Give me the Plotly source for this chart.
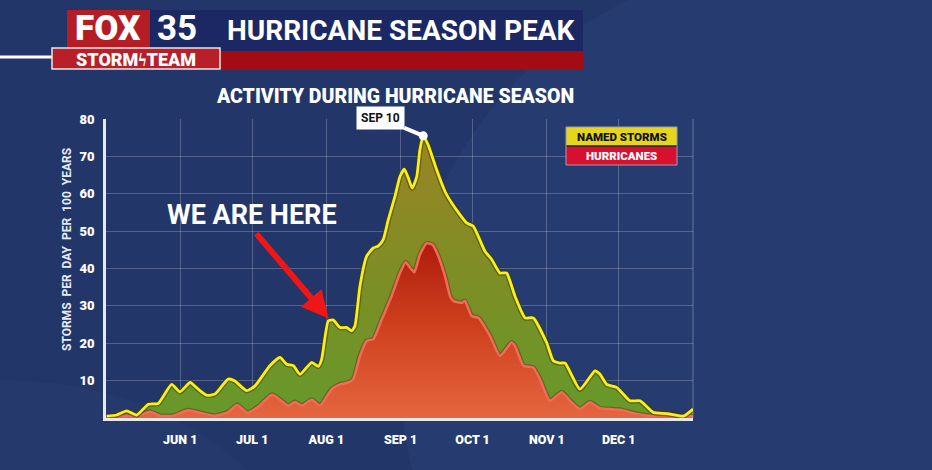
import plotly.graph_objects as go

# ---------------- data (x = days since May 1) ----------------
named_days = [0.3, 4.5, 8.6, 12.8, 17.7, 21.8, 27.4, 30.9, 35.1, 38.5, 42.0, 45.5, 51.0, 53.8, 58.7, 62.2,
              68.4, 72.6, 75.4, 78.2, 81.0, 85.9, 88.6, 90.0, 92.8, 94.9, 97.7, 100.5, 102.5, 103.9,
              106.0, 108.8, 111.6, 113.6, 115.7, 117.8, 120.6, 122.7, 124.5, 126.2, 127.8, 129.7,
              131.0, 132.4, 134.5, 138.0, 141.5, 144.3, 145.7, 150.5, 153.3, 158.2, 161.0, 164.4,
              167.2, 170.7, 174.9, 178.3, 183.9, 186.7, 189.5, 191.6, 197.8, 204.1, 206.2, 209.0,
              213.1, 215.2, 218.7, 222.9, 228.4, 234.0, 241.0, 245.0]
named_vals = [0.5, 0.8, 1.9, 0.8, 3.7, 3.9, 9.0, 7.0, 9.5, 7.7, 6.1, 6.4, 10.4, 9.9, 7.3, 8.6,
              14.0, 16.2, 14.4, 14.0, 11.7, 14.9, 13.8, 15.7, 26.0, 26.2, 24.2, 24.2, 23.3, 24.6,
              35.3, 43.3, 45.5, 46.0, 47.7, 53.0, 59.3, 64.6, 66.6, 64.2, 61.5, 64.6,
              71.7, 75.5, 73.0, 66.4, 60.6, 57.5, 56.2, 52.2, 51.3, 44.6, 42.4, 38.8,
              38.8, 32.6, 26.8, 26.8, 20.2, 15.3, 14.7, 14.7, 7.7, 12.6, 11.7, 9.0,
              8.2, 6.9, 4.6, 4.6, 1.5, 1.2, 0.5, 2.4]

hurr_days = [0.3, 14.2, 18.4, 22.5, 28.1, 34.2, 39.2, 45.5, 51.0, 54.7, 59.0, 63.9, 69.2, 72.6, 76.1,
             78.9, 81.7, 85.9, 89.3, 94.2, 97.7, 101.1, 103.2, 106.0, 108.8, 111.6, 115.1, 119.2,
             122.7, 125.1, 126.9, 128.7, 131.0, 133.8, 136.2, 138.7, 141.5, 143.6, 145.0, 148.5,
             149.8, 152.6, 155.4, 160.3, 164.4, 169.3, 170.7, 174.2, 178.3, 181.1, 185.3, 190.2,
             193.7, 197.8, 202.0, 206.2, 214.5, 221.5, 228.4, 234.7, 239.6, 245.0]
hurr_vals = [0.5, 0.8, 1.7, 0.6, 0.6, 2.1, 1.4, 0.6, 1.6, 3.5, 1.4, 3.2, 6.2, 4.9, 3.3,
             4.3, 3.3, 4.9, 3.3, 7.7, 9.0, 9.5, 10.4, 16.6, 20.6, 21.1, 26.4, 32.6,
             38.8, 41.7, 40.2, 39.0, 43.7, 46.7, 46.4, 43.3, 37.9, 32.6, 31.3, 30.8,
             31.3, 27.3, 26.8, 21.9, 16.6, 20.2, 19.3, 14.0, 13.5, 10.4, 4.6, 6.9,
             4.6, 2.4, 4.2, 2.6, 2.2, 1.1, 0.6, 1.3, 0.6, 0.5]

tick_days = [31, 61, 92, 123, 153, 184, 214]
tick_labels = ["JUN 1", "JUL 1", "AUG 1", "SEP 1", "OCT 1", "NOV 1", "DEC 1"]
y_ticks = [10, 20, 30, 40, 50, 60, 70, 80]

peak_day, peak_val, peak_label = 132.4, 75.5, "SEP 10"
here_day, here_val = 93.5, 26.2

# ---------------- layout geometry ----------------
W, H = 932, 470
L, R, T, B = 106, 239, 119, 52
PW, PH = W - L - R, H - T - B


def px(x):
    return (x - L) / PW


def py(y):
    return (H - B - y) / PH


FONT = "Roboto"
fig = go.Figure()

SPL = dict(shape="spline", smoothing=0.5)

fig.add_trace(go.Scatter(
    x=named_days, y=named_vals, mode="lines", line=dict(width=0, **SPL),
    fill="tozeroy",
    fillgradient=dict(type="vertical", colorscale=[[0, "#66992b"], [0.5, "#7d8e25"], [1, "#9a8424"]]),
    hoverinfo="skip", showlegend=False))

fig.add_trace(go.Scatter(
    x=hurr_days, y=hurr_vals, mode="lines", line=dict(width=5, color="rgba(90,20,10,0.35)", **SPL),
    hoverinfo="skip", showlegend=False))
fig.add_trace(go.Scatter(
    x=hurr_days, y=hurr_vals, mode="lines", line=dict(width=2.5, color="#f26a58", **SPL),
    fill="tozeroy",
    fillgradient=dict(type="vertical", colorscale=[[0, "#e4663f"], [0.5, "#d0421f"], [1, "#b01c0e"]]),
    hoverinfo="skip", showlegend=False))

fig.add_trace(go.Scatter(
    x=named_days, y=named_vals, mode="lines", line=dict(width=5.5, color="rgba(70,60,0,0.55)", **SPL),
    hoverinfo="skip", showlegend=False))
fig.add_trace(go.Scatter(
    x=named_days, y=named_vals, mode="lines", line=dict(width=2.8, color="#f6f01e", **SPL),
    hoverinfo="skip", showlegend=False))

fig.add_trace(go.Scatter(
    x=[peak_day], y=[peak_val], mode="markers", marker=dict(size=9, color="white"),
    hoverinfo="skip", showlegend=False))


def prect(x0, x1, y0, y1, **kw):
    return dict(type="rect", xref="paper", yref="paper", x0=px(x0), x1=px(x1), y0=py(y1), y1=py(y0), **kw)


shapes = []
# faint background sweeps
shapes.append(dict(type="circle", xref="paper", yref="paper", x0=px(400), x1=px(1200), y0=py(780), y1=py(-40),
                   fillcolor="rgba(120,150,210,0.05)", line=dict(width=0), layer="below"))
shapes.append(dict(type="circle", xref="paper", yref="paper", x0=px(-300), x1=px(300), y0=py(800), y1=py(380),
                   fillcolor="rgba(120,150,210,0.04)", line=dict(width=0), layer="below"))
# plot frame (faint right edge)
shapes.append(dict(type="line", xref="paper", yref="paper", x0=1, x1=1, y0=0, y1=1,
                   line=dict(color="rgba(255,255,255,0.3)", width=1)))

# header
shapes += [
    dict(type="line", xref="paper", yref="paper", x0=px(0), x1=px(52), y0=py(57), y1=py(57),
         line=dict(color="white", width=3)),
    prect(150, 583, 10, 51, fillcolor="#1b2863", line=dict(width=0)),
    prect(220, 583, 51, 70, fillcolor="#a30c12", line=dict(width=0)),
    prect(67, 150, 10, 48, fillcolor="#b31d23", line=dict(width=0)),
    prect(52, 220, 48, 69, fillcolor="#b81f28", line=dict(color="#e8e8e8", width=1.5)),
]
# legend box
shapes += [
    prect(566, 677, 127, 146, fillcolor="#e6d51c", line=dict(width=0)),
    prect(566, 677, 146, 165, fillcolor="#d8102f", line=dict(width=0)),
    dict(type="line", xref="paper", yref="paper", x0=px(566), x1=px(677), y0=py(146), y1=py(146),
         line=dict(color="#222", width=1.5)),
    prect(566, 677, 127, 165, fillcolor="rgba(0,0,0,0)", line=dict(color="#9aa0b0", width=1)),
]


def ptext(text, x, y, size, color="white", weight=700, **kw):
    return dict(text=text, x=px(x), y=py(y), xref="paper", yref="paper", showarrow=False,
                xanchor="center", yanchor="middle",
                font=dict(family=FONT, size=size, color=color, weight=weight), **kw)


annotations = [
    ptext("FOX", 108, 28.5, 35, weight=900),
    ptext("35", 177, 28.5, 35, weight=700),
    ptext("STORM\u03dfTEAM", 136, 59.5, 18, weight=900),
    ptext("HURRICANE SEASON PEAK", 401, 31, 28, weight=700),
    ptext("ACTIVITY DURING HURRICANE SEASON", 395, 96, 19.5, weight=900),
    ptext("STORMS  PER  DAY  PER  100  YEARS", 67, 250, 12, color="#e6eaf4", weight=700, textangle=-90),
    ptext("NAMED STORMS", 621.5, 136.5, 11.5, color="#111", weight=900),
    ptext("HURRICANES", 621.5, 155.5, 11.5, color="white", weight=900),
    dict(text="<b>" + peak_label + "</b>", x=peak_day, y=peak_val, xref="x", yref="y", ax=-43, ay=-18,
         showarrow=True, arrowhead=0, arrowwidth=4, arrowcolor="white", standoff=3,
         bgcolor="white", borderpad=4, font=dict(family=FONT, size=12, color="#111", weight=900)),
    dict(text="", x=here_day, y=here_val, xref="x", yref="y", ax=-75, ay=-88, showarrow=True,
         arrowhead=2, arrowsize=0.9, arrowwidth=6, arrowcolor="#f01616", standoff=2),
    ptext("WE ARE HERE", 251.5, 215, 27, weight=700),
]

fig.update_layout(
    width=W, height=H,
    margin=dict(l=L, r=R, t=T, b=B, pad=0),
    paper_bgcolor="#22366a", plot_bgcolor="rgba(0,0,0,0)",
    shapes=shapes, annotations=annotations, showlegend=False,
    font=dict(family=FONT, color="white"),
    xaxis=dict(range=[0, 245], tickvals=tick_days, ticktext=tick_labels, showgrid=True,
               gridcolor="rgba(255,255,255,0.22)", gridwidth=1, zeroline=False,
               showline=True, linecolor="#e8e8ef", linewidth=2.5, ticks="",
               tickfont=dict(family=FONT, size=12.5, color="white", weight=900), ticklabelstandoff=8),
    yaxis=dict(range=[0, 80], tickvals=y_ticks, showgrid=True, gridcolor="rgba(255,255,255,0.22)",
               gridwidth=1, zeroline=False, showline=True, linecolor="#e8e8ef", linewidth=2.5, ticks="",
               tickfont=dict(family=FONT, size=13, color="white", weight=900), ticklabelstandoff=6),
)

fig.write_html("out.html", config={"displayModeBar": False},
               post_script="document.body.style.margin='0';document.body.style.background='#22366a';")
